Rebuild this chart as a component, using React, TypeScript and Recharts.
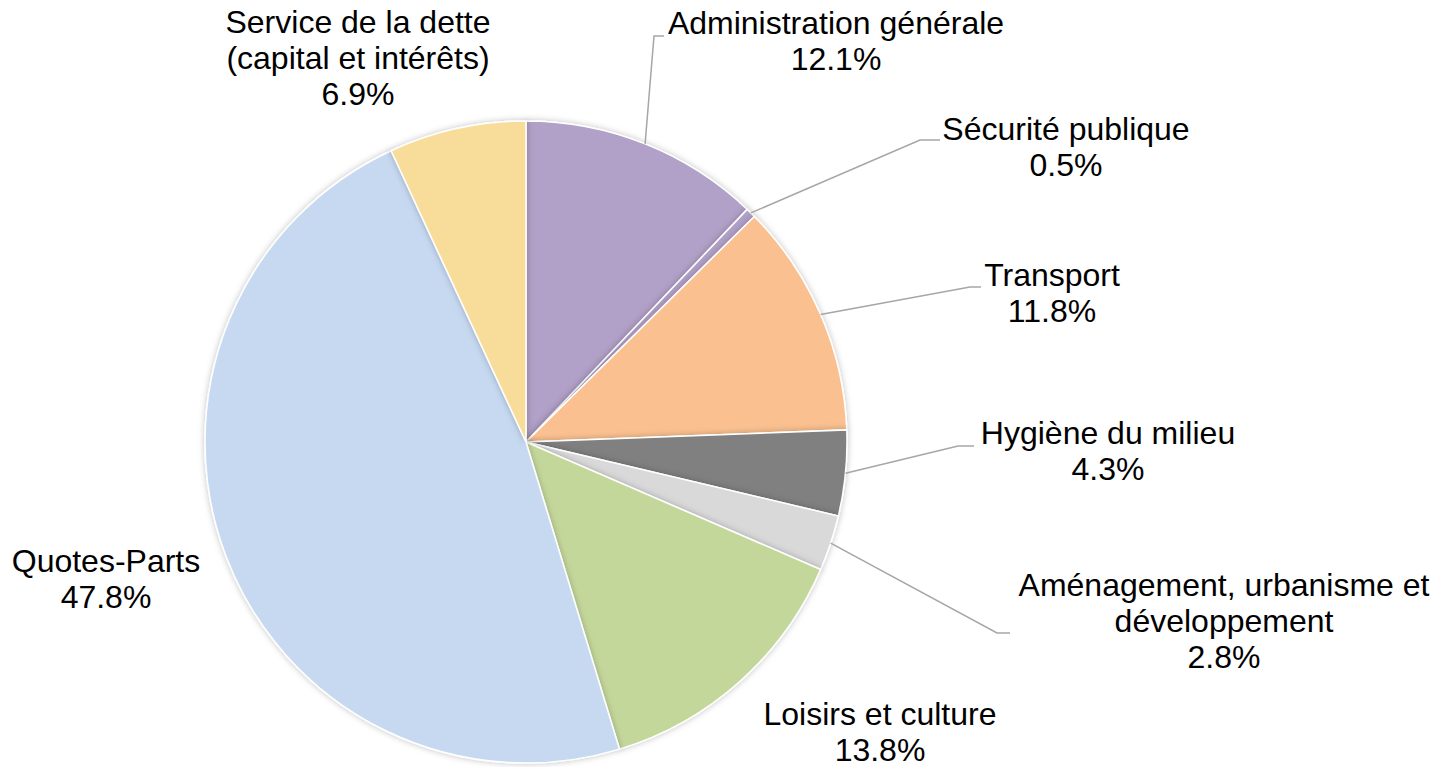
import React from 'react';
import { PieChart, Pie, Cell } from 'recharts';

// Budget share by function (%), clockwise from 12 o'clock
const categories = [
  'Administration générale',
  'Sécurité publique',
  'Transport',
  'Hygiène du milieu',
  'Aménagement, urbanisme et développement',
  'Loisirs et culture',
  'Quotes-Parts',
  'Service de la dette (capital et intérêts)',
];
const shares = [12.1, 0.5, 11.8, 4.3, 2.8, 13.8, 47.8, 6.9];
// How each category name wraps in its label
const labelText = [
  ['Administration générale'],
  ['Sécurité publique'],
  ['Transport'],
  ['Hygiène du milieu'],
  ['Aménagement, urbanisme et', 'développement'],
  ['Loisirs et culture'],
  ['Quotes-Parts'],
  ['Service de la dette', '(capital et intérêts)'],
];

const colors = ['#B1A0C7', '#B1A0C7', '#FAC090', '#808080', '#D9D9D9', '#C4D79B', '#C6D9F1', '#F8DC9A'];

// Label placement: text centre x, first baseline y, and leader elbow (if any)
const labelLayout = [
  { x: 836, y: 34, elbow: [654, 36, 664, 36] },
  { x: 1066, y: 140, elbow: [920, 140, 940, 140] },
  { x: 1052, y: 286, elbow: [970, 287, 981, 287] },
  { x: 1108, y: 444, elbow: [958, 446, 974, 446] },
  { x: 1224, y: 596, elbow: [997, 633, 1010, 633] },
  { x: 880, y: 725, elbow: null },
  { x: 106, y: 572, elbow: null },
  { x: 358, y: 33, elbow: null },
];

const chartData = categories.map((name, i) => ({ name, value: shares[i] }));

const RADIAN = Math.PI / 180;
const LINE_H = 36;

const renderLabel = (props: any) => {
  const { cx, cy, midAngle, outerRadius, index, value } = props;
  const layout = labelLayout[index];
  const lines = [...labelText[index], `${value.toFixed(1)}%`];
  const sx = cx + outerRadius * Math.cos(-midAngle * RADIAN);
  const sy = cy + outerRadius * Math.sin(-midAngle * RADIAN);
  return (
    <g key={`lbl-${index}`}>
      {layout.elbow && (
        <polyline
          points={`${sx},${sy} ${layout.elbow[0]},${layout.elbow[1]} ${layout.elbow[2]},${layout.elbow[3]}`}
          fill="none"
          stroke="#A6A6A6"
          strokeWidth={1.5}
        />
      )}
      <text
        x={layout.x}
        y={layout.y}
        textAnchor="middle"
        fill="#000"
        fontSize={32}
        fontFamily="'Liberation Sans', Arial, sans-serif"
      >
        {lines.map((t, i) => (
          <tspan key={i} x={layout.x} y={layout.y + i * LINE_H}>
            {t}
          </tspan>
        ))}
      </text>
    </g>
  );
};

const App: React.FC = () => {
  return (
    <div style={{ position: 'absolute', left: 0, top: 0, width: 1450, height: 767, background: '#fff' }}>
      <PieChart width={1450} height={767} margin={{ top: 0, right: 0, bottom: 0, left: 0 }}>
        <defs>
          <filter id="pieShadow" x="-10%" y="-10%" width="120%" height="120%">
            <feDropShadow dx="0" dy="0" stdDeviation="3" floodColor="#000" floodOpacity="0.25" />
          </filter>
        </defs>
        <Pie
          data={chartData}
          dataKey="value"
          nameKey="name"
          cx={526}
          cy={442}
          outerRadius={321}
          startAngle={90}
          endAngle={-270}
          stroke="#FFFFFF"
          strokeWidth={1.5}
          label={renderLabel}
          labelLine={false}
          isAnimationActive={false}
          style={{ filter: 'url(#pieShadow)' }}
        >
          {chartData.map((entry, index) => (
            <Cell key={`cell-${index}`} fill={colors[index]} />
          ))}
        </Pie>
      </PieChart>
    </div>
  );
};

export default App;
